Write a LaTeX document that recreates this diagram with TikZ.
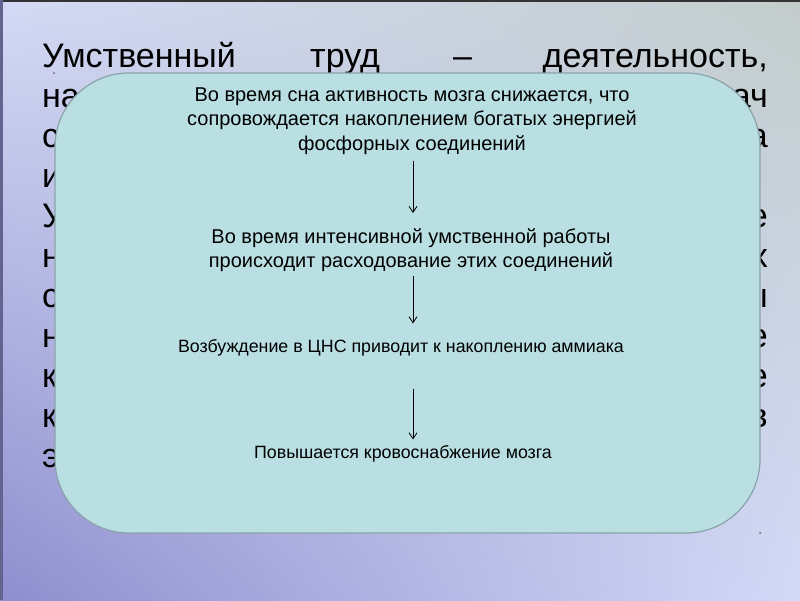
\documentclass[tikz,border=0pt]{standalone}
\usepackage{fontspec}
\setmainfont{Liberation Sans}
\usetikzlibrary{arrows.meta,calc,shadings}
\definecolor{slideul}{HTML}{D4DAF5}
\definecolor{slideur}{HTML}{C3CDCB}
\definecolor{slidell}{HTML}{8E8ECE}
\definecolor{slidelr}{HTML}{D3DAF8}
\definecolor{panelfill}{HTML}{B9DFE3}
\definecolor{paneledge}{HTML}{8AA3AA}
\tikzset{
	% ------- background slide text
	backword/.style={
		font=\fontsize{34}{40}\selectfont,
		anchor=base west,
		inner sep=0pt,
	},
	backend/.style={
		backword,
		anchor=base east,
	},
	% ------- front panel
	panel/.style={
		fill=panelfill,
		draw=paneledge,
		line width=1.2pt,
		rounded corners=74pt,
	},
	flowtext/.style={
		font=\fontsize{20}{24.5}\selectfont,
		align=center,
		inner sep=0pt,
	},
	flowsmall/.style={
		flowtext,
		font=\fontsize{17.8}{24.5}\selectfont,
	},
	flow/.style={
		-{Straight Barb[length=6pt,width=8pt]},
		line width=0.8pt,
	},
}

\begin{document}
\begin{tikzpicture}[x=1pt,y=-1pt]

% background %{{{2

	\useasboundingbox (0,0) rectangle (800,600);
	\shade[upper left=slideul, upper right=slideur,
		lower left=slidell, lower right=slidelr] (0,0) rectangle (800,600);
	\draw[line width=2pt, black!80] (0,1) -- (800,1);
	\draw[line width=3pt, slidell!70!black] (1.5,0) -- (1.5,600);

% slide text behind the panel %{{{2

	\node[backword] (w1) at (42,67) {Умственный};
	\node[backword] (w2) at (310,67) {труд};
	\node[backword] (w3) at (453,67) {–};
	\node[backend] (w4) at (768,67) {деятельность,};

	\foreach \txt [count=\i] in {на,с,и,У,н,с,н,к,к,э}
		\node[backword] (l\i) at (42,67+40*\i) {\txt};

	\node[backend] (r1) at (768,107) {ач};
	\node[backend] (r2) at (768,147) {а};
	\node[backend] (r4) at (768,227) {е};
	\node[backend] (r5) at (768,267) {х};
	\node[backend] (r6) at (768,307) {ы};
	\node[backend] (r7) at (768,347) {е};
	\node[backend] (r8) at (768,387) {е};
	\node[backend] (r9) at (768,427) {в};

% panel %{{{2

	\draw[panel] (55,73) rectangle (760,533);
	\fill[black!60] (54,73) circle (1pt);
	\fill[black!60] (760,533) circle (1pt);

% flow texts %{{{2

	\coordinate (axis) at (413,0);

	\node[flowtext] (sleep) at (412,121)
		{Во время сна активность мозга снижается, что\\
		 сопровождается накоплением богатых энергией\\
		 фосфорных соединений};
	\node[flowtext] (work) at (411,250)
		{Во время интенсивной умственной работы\\
		 происходит расходование этих соединений};
	\node[flowsmall] (cns) at (401,348)
		{Возбуждение в ЦНС приводит к накоплению аммиака};
	\node[flowsmall] (blood) at (403,454)
		{Повышается кровоснабжение мозга};

% arrows %{{{2

	\draw[flow] ($(sleep.south -| axis)+(0,6)$) -- ($(work.north -| axis)+(0,-15)$);
	\draw[flow] ($(work.south -| axis)+(0,4)$) -- ($(cns.north -| axis)+(0,-16)$);
	\draw[flow] ($(cns.south -| axis)+(0,32)$) -- ($(blood.north -| axis)+(0,-6)$);

\end{tikzpicture}
\end{document}
